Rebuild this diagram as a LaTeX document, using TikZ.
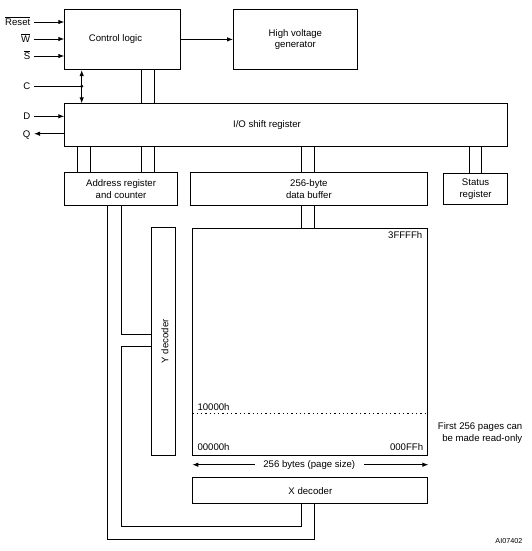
\documentclass[tikz,border=0pt]{standalone}
\usepackage{fontspec}
\setmainfont{Liberation Sans}
\usetikzlibrary{arrows.meta}
\begin{document}
\begin{tikzpicture}[x=1pt,y=-1pt,
  every node/.style={font=\fontsize{9.6}{11.6}\selectfont},
  box/.style={draw, line width=1.1pt, inner sep=0pt, anchor=north west, align=center},
  wire/.style={line width=0.9pt},
  tip/.tip={Latex[length=6pt,width=4.5pt]},
  arr/.style={wire, -tip},
  pinlbl/.style={anchor=base east, inner sep=0pt}]
\useasboundingbox (0,0) rectangle (531,551);

% boxes
\node[box, minimum width=115.7pt, minimum height=60.3pt] (cl) at (64.3,8.7) {};
\node (clt) at (115.5,38.9) {Control logic};
\node[box, minimum width=123.7pt, minimum height=60.3pt] (hv) at (233,8.7) {High voltage\\generator};
\node[box, minimum width=443pt, minimum height=42.4pt] (io) at (64.3,103.3) {};
\node (iot) at (267,125.5) {I/O shift register};
\node[box, minimum width=112.4pt, minimum height=33.6pt] (ar) at (64.3,171.7) {Address register\\and counter};
\node[box, minimum width=236.7pt, minimum height=33.6pt] (db) at (190,171.7) {256-byte\\data buffer};
\node[box, minimum width=64.6pt, minimum height=30.7pt] (sr) at (442.7,173) {Status\\register};
\node[box, minimum width=24.3pt, minimum height=227.7pt] (yd) at (150.7,227.3) {};
\node[rotate=90] (ydt) at (165,341.2) {Y decoder};
\node[box, minimum width=235pt, minimum height=226.7pt] (mem) at (192.3,228.3) {};
\node[box, minimum width=235pt, minimum height=26pt] (xd) at (192.3,477.3) {X decoder};

% pins
\coordinate (pR) at (34,22);
\coordinate (pW) at (34,39);
\coordinate (pS) at (34,56);
\coordinate (pC) at (34,86.3);
\coordinate (pD) at (34,116.3);
\coordinate (pQ) at (34,133.7);
\node[pinlbl] (lR) at (30.5,25.4) {$\overline{\mbox{Reset}}$};
\node[pinlbl] (lW) at (30.5,42.4) {$\overline{\mbox{W}}$};
\node[pinlbl] (lS) at (30.5,59.4) {$\overline{\mbox{S}}$};
\node[pinlbl] (lC) at (30.5,89.7) {C};
\node[pinlbl] (lD) at (30.5,119.7) {D};
\node[pinlbl] (lQ) at (30.5,137.1) {Q};
\draw[arr] (pR) -- (pR -| cl.west);
\draw[arr] (pW) -- (pW -| cl.west);
\draw[arr] (pS) -- (pS -| cl.west);
\draw[arr] (pD) -- (pD -| io.west);
\draw[arr] (pQ -| io.west) -- (pQ);
\coordinate (cj) at (81.7,86.3);
\draw[wire] (pC) -- (cj);
\fill (cj) circle (1.7pt);
\draw[wire, tip-tip] (cj |- cl.south) -- (cj |- io.north);

\draw[arr] (cl.east) -- (hv.west);

% buses
\foreach \x in {141.3,154} {\draw[wire] (\x,0 |- cl.south) -- (\x,0 |- io.north);}
\foreach \x in {77.3,90,141.3,154} {\draw[wire] (\x,0 |- io.south) -- (\x,0 |- ar.north);}
\foreach \x in {301.7,314.3} {\draw[wire] (\x,0 |- io.south) -- (\x,0 |- db.north);}
\foreach \x in {469,481.7} {\draw[wire] (\x,0 |- io.south) -- (\x,0 |- sr.north);}
\foreach \x in {301.7,314.3} {\draw[wire] (\x,0 |- db.south) -- (\x,0 |- mem.north);}

% address wiring
\draw[wire] (121,0 |- ar.south) |- (yd.west |- 0,334.3);
\draw[wire] (yd.west |- 0,346.7) -| (121,526.7) -| (301.7,0 |- xd.south);
\draw[wire] (107.7,0 |- ar.south) |- (314.3,539.3) -- (314.3,0 |- xd.south);

% memory labels
\node[anchor=east, inner sep=0pt] (top) at (422.5,235) {3FFFFh};
\node[anchor=west, inner sep=0pt] (m1) at (197.3,407.3) {10000h};
\node[anchor=west, inner sep=0pt] (m0) at (197.3,447.3) {00000h};
\node[anchor=east, inner sep=0pt] (mf) at (423.3,447.3) {000FFh};
\draw[line width=1.3pt, dash pattern=on 1.3pt off 3pt] (mem.west |- 0,413.3) -- (mem.east |- 0,413.3);

\node[inner ysep=0pt, inner xsep=8.5pt] (ps) at (309.3,464.7) {256 bytes (page size)};
\draw[arr] (ps.west) -- (ps.west -| mem.west);
\draw[arr] (ps.east) -- (ps.east -| mem.east);

\node[anchor=east, align=right, inner sep=0pt, font=\fontsize{9.6}{12}\selectfont] (note) at (522.5,432.7) {First 256 pages can\\be made read-only};
\node[anchor=east, inner sep=0pt, font=\fontsize{7.2}{8}\selectfont] (ai) at (522.5,540.7) {AI07402};
\end{tikzpicture}
\end{document}
